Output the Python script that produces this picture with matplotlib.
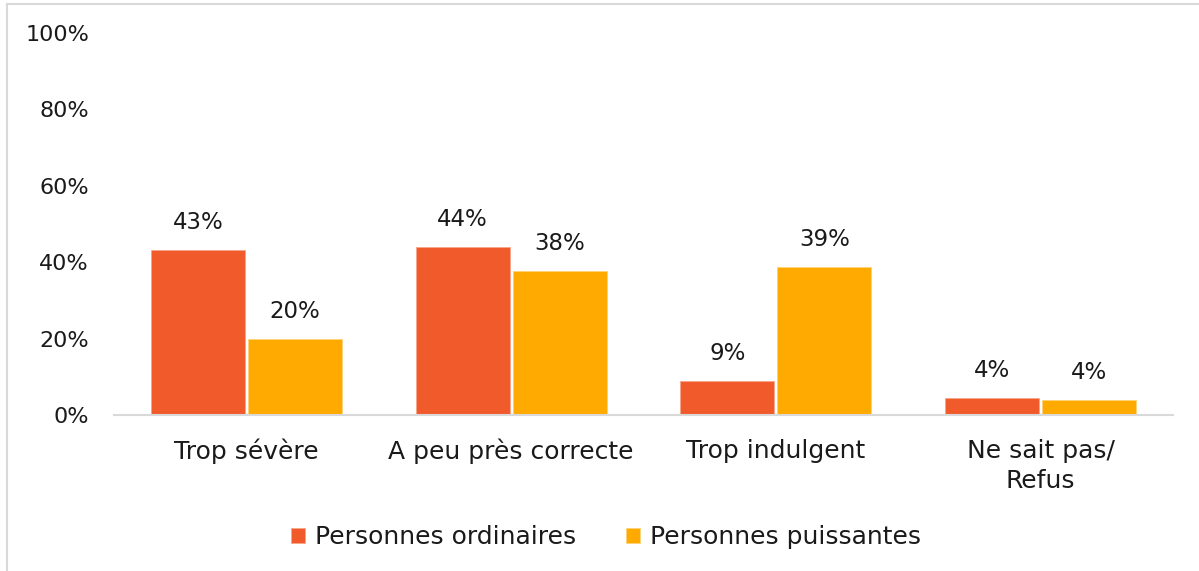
import matplotlib.pyplot as plt
import numpy as np
from matplotlib.lines import Line2D
from matplotlib.ticker import FuncFormatter

categories = ["Trop sévère", "A peu près correcte", "Trop indulgent", "Ne sait pas/\nRefus"]
ordinaires = [43.2, 44.0, 8.8, 4.4]
puissantes = [19.9, 37.7, 38.7, 3.9]
series_names = ["Personnes ordinaires", "Personnes puissantes"]

RED = "#F15A2B"
YELLOW = "#FFAA00"
TEXT = "#1a1a1a"

plt.rcParams['font.family'] = ['DejaVu Sans']
FS_TICK = 16
FS_VAL = 16.5
FS_CAT = 18

fig = plt.figure(figsize=(11.99, 5.71), dpi=100)
ax = fig.add_axes([114 / 1199, 1 - 415 / 571, 1059 / 1199, 382 / 571])

x = np.arange(len(categories))
w = 0.355
off = 0.183
b1 = ax.bar(x - off, ordinaires, w, color=RED, edgecolor="#f7a58a", linewidth=0.6,
            label=series_names[0])
b2 = ax.bar(x + off, puissantes, w, color=YELLOW, edgecolor="#ffd27a", linewidth=0.6,
            label=series_names[1])

for bars, vals in [(b1, ordinaires), (b2, puissantes)]:
    for rect, v in zip(bars, vals):
        ax.text(rect.get_x() + rect.get_width() / 2, v + 4.2, f"{round(v)}%",
                ha="center", va="bottom", fontsize=FS_VAL, color=TEXT)

ax.set_xlim(-0.5, 3.5)
ax.set_ylim(0, 100)
ax.set_yticks(range(0, 101, 20))
ax.yaxis.set_major_formatter(FuncFormatter(lambda v, p: f"{int(v)}%"))
ax.set_xticks(x)
ax.set_xticklabels(categories, linespacing=1.35)
ax.tick_params(axis="both", length=0, colors=TEXT)
ax.tick_params(axis="y", pad=18, labelsize=FS_TICK)
ax.tick_params(axis="x", pad=17, labelsize=FS_CAT)

for s in ["top", "right", "left"]:
    ax.spines[s].set_visible(False)
ax.spines["bottom"].set_color("#d9d9d9")
ax.spines["bottom"].set_linewidth(1.5)

leg = fig.legend(handles=[b1, b2], loc="center", bbox_to_anchor=(606 / 1199, 1 - 537 / 571),
                 ncol=2, frameon=False, fontsize=FS_CAT, handlelength=0.55, handleheight=0.55,
                 handletextpad=0.4, columnspacing=2.0)
for t in leg.get_texts():
    t.set_color(TEXT)

# light frame: left and top edges only
bx, by = 7 / 1199, 1 - 4 / 571
fig.add_artist(Line2D([bx, bx], [0, by], transform=fig.transFigure,
                      color="#d9d9d9", linewidth=1.5))
fig.add_artist(Line2D([bx, 1], [by, by], transform=fig.transFigure,
                      color="#d9d9d9", linewidth=1.5))

fig.savefig("out.png", dpi=100)
